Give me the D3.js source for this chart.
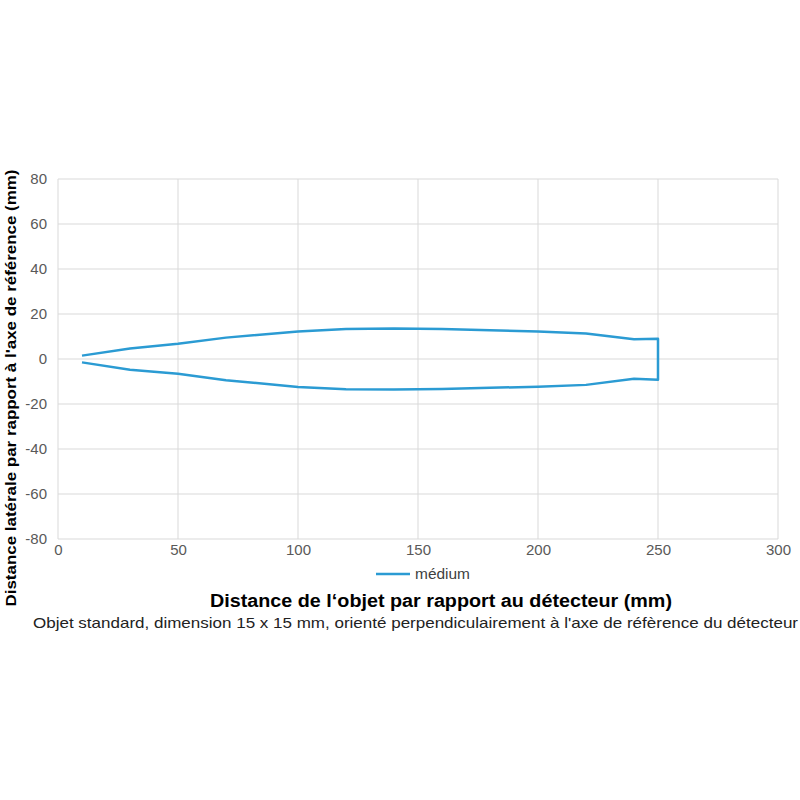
<!DOCTYPE html>
<html><head><meta charset="utf-8">
<script src="https://cdn.jsdelivr.net/npm/d3@7"></script>
<style>body{margin:0;background:#fff;}svg{display:block;font-family:"Liberation Sans",Arial,sans-serif;}</style>
</head><body>
<script>
const xTicks = [0, 50, 100, 150, 200, 250, 300];
const yTicks = [-80, -60, -40, -20, 0, 20, 40, 60, 80];
const seriesName = "médium";
// outline: upper edge left→right, then lower edge right→left
const upperX = [10, 30, 50, 70, 100, 120, 140, 160, 180, 200, 220, 240, 250];
const upperY = [1.5, 4.7, 6.8, 9.5, 12.2, 13.3, 13.6, 13.3, 12.8, 12.2, 11.3, 8.8, 9.0];
const lowerX = [250, 240, 220, 200, 180, 160, 140, 120, 100, 70, 50, 30, 10];
const lowerY = [-9.2, -8.8, -11.5, -12.3, -12.8, -13.3, -13.6, -13.4, -12.4, -9.4, -6.6, -4.8, -1.5];
const xTitle = "Distance de l‘objet par rapport au détecteur (mm)";
const yTitle = "Distance latérale par rapport à l'axe de référence (mm)";
const subtitle = "Objet standard, dimension 15 x 15 mm, orienté perpendiculairement à l'axe de réfèrence du détecteur";

const W = 800, H = 800;
const m = {left: 58, right: 22, top: 179, bottom: 261};
const svg = d3.select("body").append("svg").attr("width", W).attr("height", H);
const x = d3.scaleLinear().domain([0, 300]).range([m.left, W - m.right]);
const y = d3.scaleLinear().domain([-80, 80]).range([H - m.bottom, m.top]);

// grid
svg.append("g").selectAll("line").data(yTicks).join("line")
  .attr("x1", x(0)).attr("x2", x(300)).attr("y1", d => y(d)).attr("y2", d => y(d))
  .attr("stroke", "#d9d9d9").attr("stroke-width", 1);
svg.append("g").selectAll("line").data(xTicks).join("line")
  .attr("y1", y(-80)).attr("y2", y(80)).attr("x1", d => x(d)).attr("x2", d => x(d))
  .attr("stroke", "#d9d9d9").attr("stroke-width", 1);

// axes labels
const yAxis = d3.axisLeft(y).tickValues(yTicks).tickFormat(d => String(d)).tickSize(0).tickPadding(11);
const gy = svg.append("g").attr("transform", `translate(${x(0)},0)`).call(yAxis);
gy.select(".domain").remove();
gy.selectAll("text").attr("fill", "#595959").attr("font-size", 15).attr("font-family", "Liberation Sans, Arial, sans-serif");
const xAxis = d3.axisBottom(x).tickValues(xTicks).tickFormat(d => String(d)).tickSize(0).tickPadding(5);
const gx = svg.append("g").attr("transform", `translate(0,${y(-80)})`).call(xAxis);
gx.select(".domain").remove();
gx.selectAll("text").attr("fill", "#595959").attr("font-size", 15).attr("font-family", "Liberation Sans, Arial, sans-serif");

// series
const pts = upperX.map((v, i) => [v, upperY[i]]).concat(lowerX.map((v, i) => [v, lowerY[i]]));
const line = d3.line().x(d => x(d[0])).y(d => y(d[1]));
svg.append("path").datum(pts).attr("d", line)
  .attr("fill", "none").attr("stroke", "#2b9bd3").attr("stroke-width", 2.5).attr("stroke-linejoin", "round");

// legend
svg.append("line").attr("x1", 376).attr("x2", 410).attr("y1", 574).attr("y2", 574)
  .attr("stroke", "#2b9bd3").attr("stroke-width", 2.5);
svg.append("text").attr("x", 415).attr("y", 579).text(seriesName)
  .attr("font-size", 15).attr("fill", "#404040")
  .attr("textLength", 55).attr("lengthAdjust", "spacingAndGlyphs");

// titles
svg.append("text").attr("x", 441).attr("y", 607).attr("text-anchor", "middle")
  .attr("font-size", 18).attr("font-weight", "bold").attr("fill", "#000").text(xTitle)
  .attr("textLength", 462).attr("lengthAdjust", "spacingAndGlyphs");
svg.append("text").attr("transform", "translate(16,388) rotate(-90)").attr("text-anchor", "middle")
  .attr("font-size", 15.5).attr("font-weight", "bold").attr("fill", "#000").text(yTitle)
  .attr("textLength", 437).attr("lengthAdjust", "spacingAndGlyphs");
svg.append("text").attr("x", 415.5).attr("y", 628).attr("text-anchor", "middle")
  .attr("font-size", 15).attr("fill", "#222").text(subtitle)
  .attr("textLength", 765).attr("lengthAdjust", "spacingAndGlyphs");
</script>
</body></html>
